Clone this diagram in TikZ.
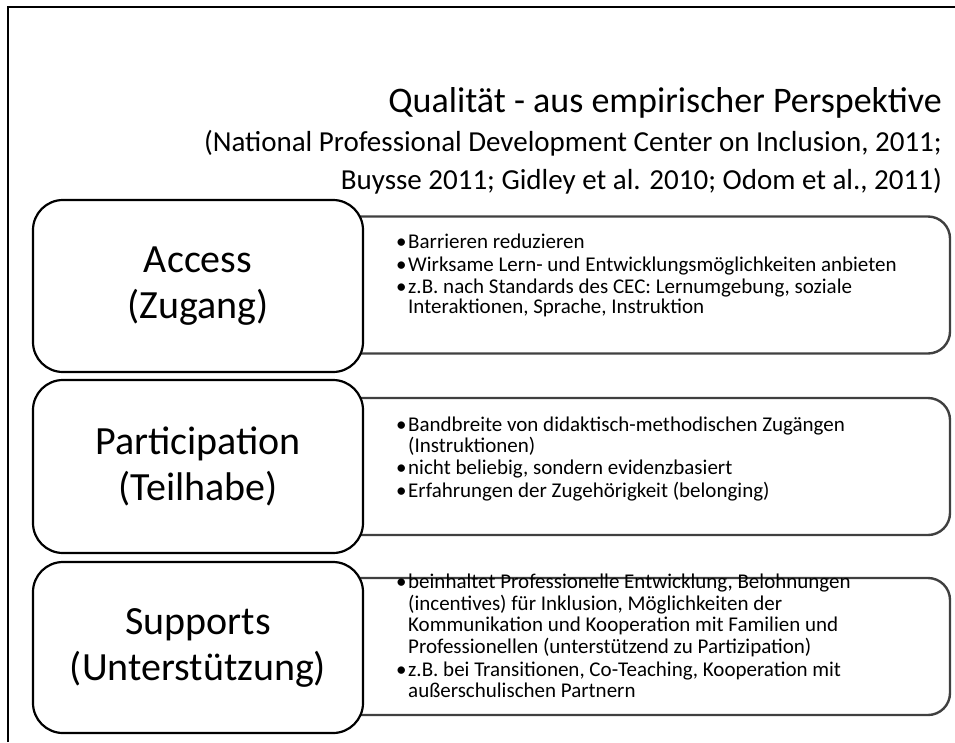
\documentclass[tikz,border=0pt]{standalone}
\usepackage{fontspec}
\setmainfont{Carlito}
\usetikzlibrary{positioning}

\newcommand{\bul}{\makebox[12pt][l]{\textbullet}}
\newcommand{\cont}{\hspace*{12pt}}

\begin{document}
\begin{tikzpicture}[x=1pt, y=-1pt,
    topic/.style={draw, line width=2.2pt, rounded corners=30pt, fill=white,
                  minimum width=330pt, align=center, font=\fontsize{40}{46}\selectfont},
    info/.style={draw=black!75, line width=2.4pt, rounded corners=22pt,
                 minimum width=650pt, minimum height=137pt},
    infotext/.style={anchor=north west, inner sep=0pt, align=left,
                     font=\fontsize{21}{21.5}\selectfont}]
    \useasboundingbox (0,0) rectangle (955,742);
    % frame of the slide
    \draw[line width=2pt] (8,742) -- (8,7) -- (955,7);

    % title and references
    \node[anchor=base east, inner sep=0pt, font=\fontsize{36}{40}\selectfont] (title) at (942,112)
        {Qualität - aus empirischer Perspektive};
    \node[below=12pt of title.south east, anchor=north east, inner sep=0pt, align=right,
          font=\fontsize{29}{38}\selectfont] (refs)
        {(National Professional Development Center on Inclusion, 2011;\\
         Buysse 2011; Gidley et al. 2010; Odom et al., 2011)};

    % info boxes (behind)
    \node[info] (accessinfo) at (625,285) {};
    \node[info] (particinfo) at (625,466.5) {};
    \node[info] (supportinfo) at (625,646.5) {};

    % topic boxes
    \node[topic, minimum height=172pt] (access) at (198,286) {Access\\(Zugang)};
    \node[topic, minimum height=173pt] (partic) at (198,466.5) {Participation\\(Teilhabe)};
    \node[topic, minimum height=171pt] (support) at (198,647.5) {Supports\\(Unterstützung)};

    % bullet texts
    \node[infotext] (accesstext) at (396,234)
        {\bul Barrieren reduzieren\\[1pt]
         \bul Wirksame Lern- und Entwicklungsmöglichkeiten anbieten\\[1pt]
         \bul z.B. nach Standards des CEC: Lernumgebung, soziale\\[-1.5pt]
         \cont Interaktionen, Sprache, Instruktion};
    \node[infotext] (partictext) at (396,417)
        {\bul Bandbreite von didaktisch-methodischen Zugängen\\[-1pt]
         \cont (Instruktionen)\\[1pt]
         \bul nicht beliebig, sondern evidenzbasiert\\[1pt]
         \bul Erfahrungen der Zugehörigkeit (belonging)};
    \node[infotext] (supporttext) at (396,574)
        {\bul beinhaltet Professionelle Entwicklung, Belohnungen\\
         \cont (incentives) für Inklusion, Möglichkeiten der\\
         \cont Kommunikation und Kooperation mit Familien und\\
         \cont Professionellen (unterstützend zu Partizipation)\\[1.5pt]
         \bul z.B. bei Transitionen, Co-Teaching, Kooperation mit\\
         \cont außerschulischen Partnern};
\end{tikzpicture}
\end{document}
